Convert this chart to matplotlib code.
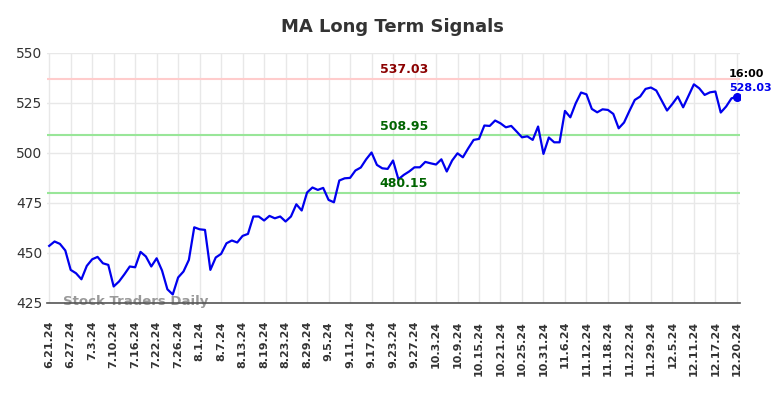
import matplotlib
matplotlib.use("Agg")
import matplotlib.pyplot as plt

tick_labels = ["6.21.24", "6.27.24", "7.3.24", "7.10.24", "7.16.24", "7.22.24", "7.26.24",
               "8.1.24", "8.7.24", "8.13.24", "8.19.24", "8.23.24", "8.29.24", "9.5.24",
               "9.11.24", "9.17.24", "9.23.24", "9.27.24", "10.3.24", "10.9.24", "10.15.24",
               "10.21.24", "10.25.24", "10.31.24", "11.6.24", "11.12.24", "11.18.24",
               "11.22.24", "11.29.24", "12.5.24", "12.11.24", "12.17.24", "12.20.24"]

prices = [453.5, 455.7, 454.5, 451.2, 441.5, 439.8, 436.8, 443.5, 446.8, 448.0,
          444.8, 444.0, 433.2, 435.7, 439.3, 443.2, 442.8, 450.5, 448.2, 443.2,
          447.3, 441.2, 431.8, 429.2, 437.7, 440.7, 446.5, 462.8, 461.8, 461.5,
          441.5, 447.7, 449.5, 454.8, 456.2, 455.2, 458.5, 459.5, 468.2, 468.2,
          466.2, 468.5, 467.3, 468.2, 465.7, 468.2, 474.3, 471.2, 480.2, 482.7,
          481.5, 482.5, 476.5, 475.3, 486.2, 487.3, 487.5, 491.2, 492.7, 496.8,
          500.2, 494.0, 492.3, 492.0, 496.2, 486.8, 489.0, 490.7, 492.8, 492.8,
          495.5, 494.8, 494.2, 496.8, 490.7, 496.2, 499.8, 497.8, 502.3, 506.5,
          507.0, 513.7, 513.5, 516.2, 514.8, 512.8, 513.5, 510.7, 507.8, 508.3,
          506.5, 513.2, 499.5, 507.7, 505.3, 505.3, 521.0, 517.8, 524.8, 530.2,
          529.3, 522.0, 520.3, 521.8, 521.5, 519.5, 512.3, 515.2, 521.0, 526.5,
          528.2, 532.0, 532.7, 531.2, 526.2, 521.2, 524.5, 528.2, 522.8, 528.5,
          534.3, 532.3, 529.0, 530.3, 530.7, 520.2, 523.2, 527.3, 528.03]

levels = [537.03, 508.95, 480.15]
level_line_colors = ["#ffcccc", "#99e699", "#99e699"]
level_text_colors = ["#8b0000", "#006400", "#006400"]
last_time = "16:00"

fig = plt.figure(figsize=(7.84, 3.98), dpi=100)
ax = fig.add_axes([0.060, 0.239, 0.884, 0.628])

x = list(range(len(prices)))
ax.plot(x, prices, color="#0000ee", lw=1.6, zorder=3)
ax.plot(x[-1], prices[-1], "o", color="#0000ee", ms=5.5, zorder=4)

for lv, lc, tc in zip(levels, level_line_colors, level_text_colors):
    ax.axhline(lv, color=lc, lw=1.5, zorder=2)
    ax.text(66, lv + 1.2, f"{lv:.2f}", color=tc, fontsize=9, fontweight="bold",
            ha="center", va="bottom", zorder=5)

ax.text(x[-1] - 1.5, prices[-1] + 11.5, last_time, color="black", fontsize=8,
        fontweight="bold", ha="left", va="center")
ax.text(x[-1] - 1.5, prices[-1] + 4.5, f"{prices[-1]:.2f}", color="#0000ee", fontsize=8,
        fontweight="bold", ha="left", va="center")

ax.text(2.5, 425.5, "Stock Traders Daily", color="#999999", fontsize=9.5,
        fontweight="bold", ha="left", va="center", zorder=1)

tick_pos = [i * 4 for i in range(len(tick_labels))]
ax.set_xticks(tick_pos)
ax.set_xticklabels(tick_labels, rotation=90, fontsize=8, fontweight="bold")
ax.set_xlim(-0.4, 128.6)
ax.set_ylim(425, 550)
ax.set_yticks([425, 450, 475, 500, 525, 550])
ax.tick_params(axis="y", labelsize=10, length=0, colors="#333333")
ax.tick_params(axis="x", length=0, colors="#333333", pad=13)
ax.grid(True, color="#e8e8e8", lw=1)
ax.set_axisbelow(True)
for s in ["top", "right", "left"]:
    ax.spines[s].set_visible(False)
ax.spines["bottom"].set_color("#555555")
ax.spines["bottom"].set_linewidth(1.2)

fig.suptitle("MA Long Term Signals", x=0.5, y=0.955, fontsize=13, fontweight="bold",
             color="#333333")

fig.savefig("out.png", dpi=100)
